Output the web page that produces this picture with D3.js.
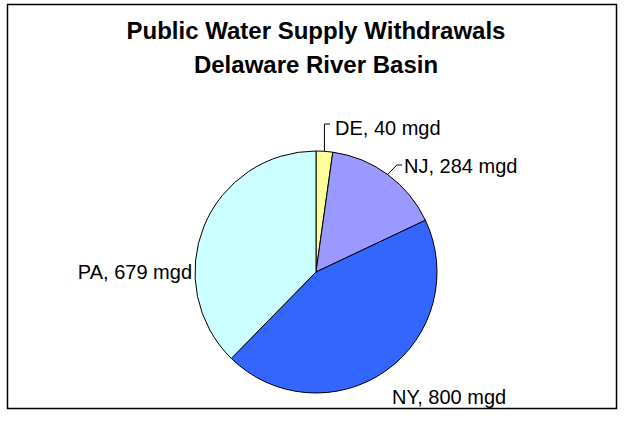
<!DOCTYPE html>
<html>
<head>
<meta charset="utf-8">
<script src="https://cdn.jsdelivr.net/npm/d3@7"></script>
<style>
  html, body { margin: 0; padding: 0; background: #fff; }
  svg { display: block; }
  text { font-family: "Liberation Sans", Arial, sans-serif; fill: #000; }
</style>
</head>
<body>
<script>
const categories = ["DE", "NJ", "NY", "PA"];
const values = [40, 284, 800, 679];
const unit = "mgd";
const colors = ["#FFFF99", "#9999FF", "#3366FF", "#CCFFFF"];
const titleLines = ["Public Water Supply Withdrawals", "Delaware River Basin"];

const W = 624, H = 421;
const svg = d3.select("body").append("svg").attr("width", W).attr("height", H);

// chart frame
svg.append("rect").attr("x", 7.5).attr("y", 4.5).attr("width", 609).attr("height", 404)
  .attr("fill", "#fff").attr("stroke", "#000").attr("stroke-width", 1.5);

// title
svg.append("g").selectAll("text").data(titleLines).join("text")
  .attr("x", 316).attr("y", (d, i) => 39 + i * 34)
  .attr("text-anchor", "middle")
  .attr("font-size", 24).attr("font-weight", "bold")
  .text(d => d);

const cx = 316, cy = 272, r = 121;
const data = categories.map((c, i) => ({ cat: c, value: values[i], color: colors[i] }));
const pie = d3.pie().sort(null).value(d => d.value);
const arcs = pie(data);
const arc = d3.arc().innerRadius(0).outerRadius(r);

const g = svg.append("g").attr("transform", `translate(${cx},${cy})`);
g.selectAll("path").data(arcs).join("path")
  .attr("d", arc)
  .attr("fill", d => d.data.color)
  .attr("stroke", "#000").attr("stroke-width", 1);

// labels
const labelPos = {
  DE: { x: 335, y: 128, anchor: "start", leader: true },
  NJ: { x: 404, y: 166, anchor: "start", leader: true },
  NY: { x: 392, y: 397, anchor: "start", leader: false },
  PA: { x: 192, y: 272, anchor: "end", leader: false }
};
const fs = 20;
arcs.forEach(a => {
  const p = labelPos[a.data.cat];
  if (p.leader) {
    const mid = (a.startAngle + a.endAngle) / 2;
    const ex = cx + Math.sin(mid) * r, ey = cy - Math.cos(mid) * r;
    let pts;
    if (a.data.cat === "DE") {
      pts = [[ex, ey], [ex, p.y - 4], [p.x - 5, p.y - 4]];
    } else {
      pts = [[ex, ey], [ex + 9, p.y - 1], [p.x - 2, p.y - 1]];
    }
    svg.append("path").attr("d", d3.line()(pts))
      .attr("fill", "none").attr("stroke", "#000").attr("stroke-width", 1);
  }
  svg.append("text").attr("x", p.x).attr("y", p.y).attr("dy", "0.35em")
    .attr("text-anchor", p.anchor).attr("font-size", fs)
    .text(`${a.data.cat}, ${d3.format(",")(a.data.value)} ${unit}`);
});
</script>
</body>
</html>
